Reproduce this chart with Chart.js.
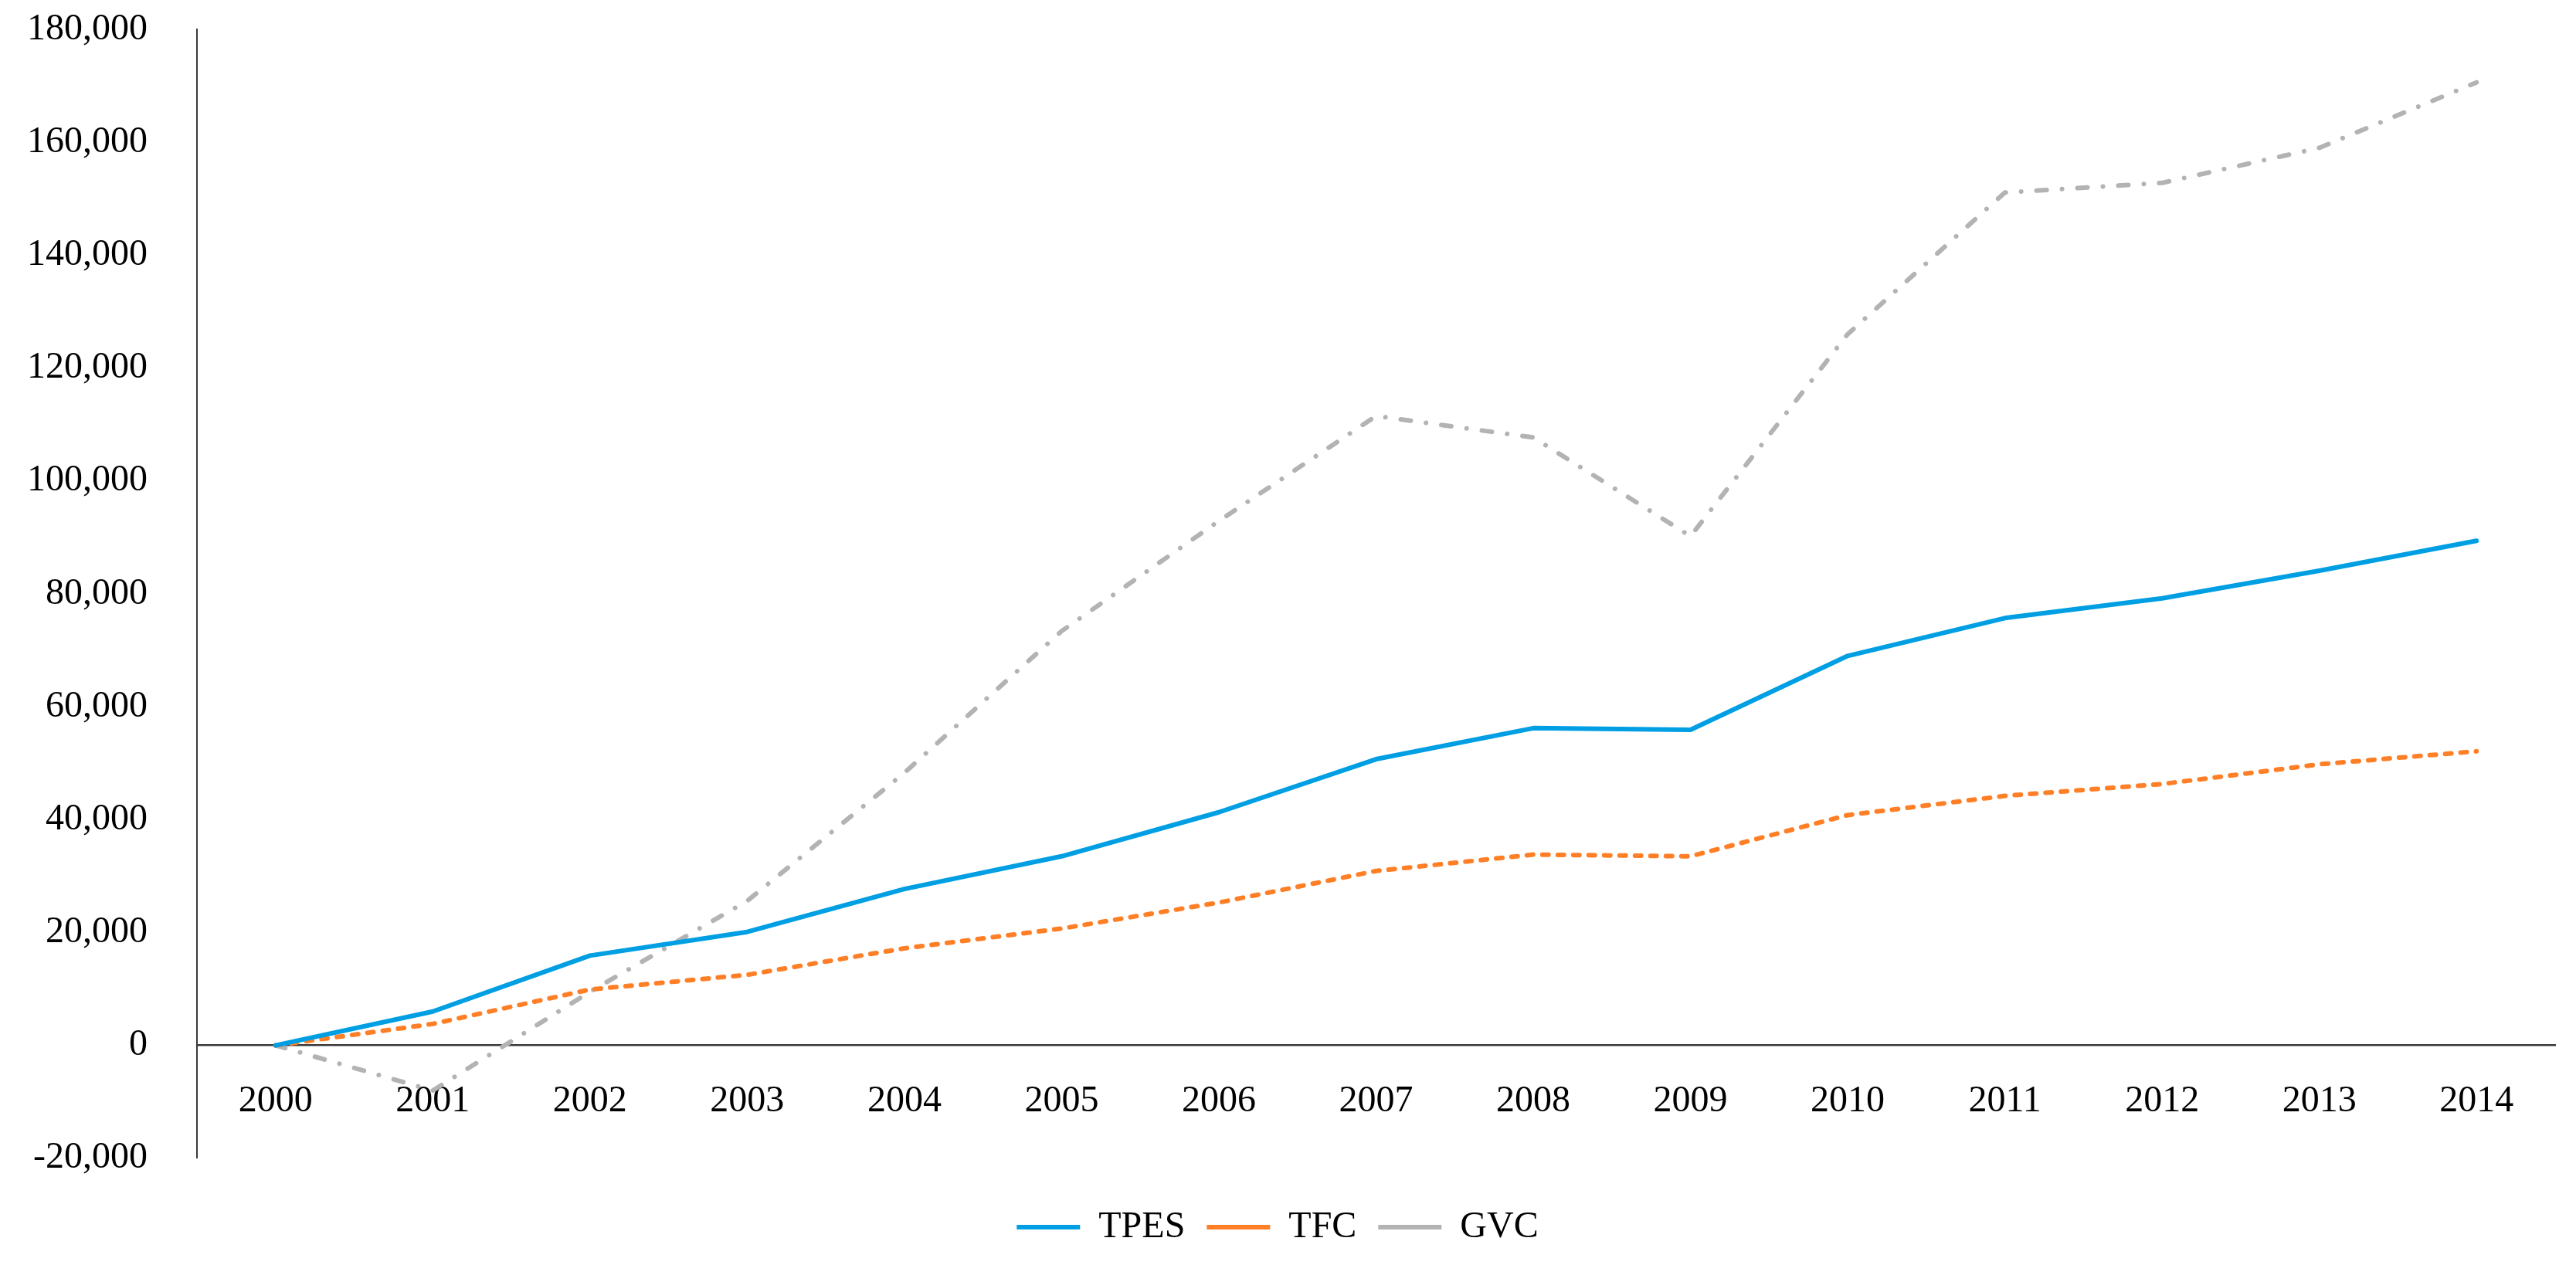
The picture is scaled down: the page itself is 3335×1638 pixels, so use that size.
<!DOCTYPE html>
<html>
<head>
<meta charset="utf-8">
<script src="https://cdn.jsdelivr.net/npm/chart.js@4.4.1/dist/chart.umd.min.js"></script>
<style>
  html, body { margin: 0; padding: 0; background: #fff; }
  #wrap { width: 3335px; height: 1638px; }
</style>
</head>
<body>
<div id="wrap"><canvas id="chart"></canvas></div>
<script>
// values
const years = ['2000', '2001', '2002', '2003', '2004', '2005', '2006', '2007',
               '2008', '2009', '2010', '2011', '2012', '2013', '2014'];
const tpes = [0, 6000, 15900, 20100, 27700, 33500, 41300, 50700,
              56200, 55900, 69000, 75700, 79200, 84100, 89400];
const tfc = [0, 3800, 9900, 12500, 17200, 20700, 25300, 30900,
             33800, 33500, 40800, 44200, 46300, 49800, 52100];
const gvc = [0, -8000, 9500, 25600, 48300, 73400, 92900, 111500,
             107700, 90200, 126000, 151100, 152800, 159000, 170600];
const yMin = -20000, yMax = 180000, yStep = 20000;

const serif = 'Liberation Serif';

const ctx = document.getElementById('chart');
const chart = new Chart(ctx, {
  type: 'line',
  data: {
    labels: years,
    datasets: [
      {label: 'TPES', data: tpes, borderColor: '#009FE3', backgroundColor: '#009FE3',
       borderWidth: 6, borderCapStyle: 'round', borderJoinStyle: 'round'},
      {label: 'TFC', data: tfc, borderColor: '#FF7F27', backgroundColor: '#FF7F27',
       borderWidth: 6, borderDash: [8, 12], borderCapStyle: 'round', borderJoinStyle: 'round'},
      {label: 'GVC', data: gvc, borderColor: '#B3B3B3', backgroundColor: '#B3B3B3',
       borderWidth: 6, borderDash: [13, 20, 0.01, 20], borderCapStyle: 'round', borderJoinStyle: 'round'}
    ]
  },
  options: {
    responsive: true,
    maintainAspectRatio: false,
    devicePixelRatio: 1,
    animation: false,
    elements: {
      point: {radius: 0, hoverRadius: 0},
      line: {tension: 0}
    },
    layout: {padding: {top: 38, right: 27, bottom: 15, left: 0}},
    scales: {
      x: {
        // axis line sits on the zero value, like the original
        position: {y: 0},
        offset: true,
        afterFit(scale) { scale.height = 0; },
        grid: {display: false, drawTicks: false},
        border: {display: true, color: '#3a3a3a', width: 2.5},
        ticks: {
          color: '#000', padding: 44, maxRotation: 0, autoSkip: false,
          font: {family: serif, size: 48}
        }
      },
      y: {
        min: yMin,
        max: yMax,
        grid: {display: false, drawTicks: false},
        border: {display: true, color: '#3a3a3a', width: 2},
        afterFit(scale) {
          scale.width = 255;
          // tick padding should not push the plot down
          scale.paddingTop = 0;
          scale.paddingBottom = 0;
        },
        ticks: {
          stepSize: yStep, color: '#000', padding: 64,
          font: {family: serif, size: 48},
          callback: v => v.toLocaleString('en-US')
        }
      }
    },
    plugins: {
      legend: {
        position: 'bottom',
        title: {display: true, text: '', font: {size: 1}, padding: {top: 36, bottom: 0}},
        labels: {
          usePointStyle: true,
          pointStyle: 'line',
          pointStyleWidth: 82,
          color: '#000',
          padding: 28,
          font: {family: serif, size: 48}
        }
      },
      tooltip: {enabled: false}
    }
  }
});
</script>
</body>
</html>
